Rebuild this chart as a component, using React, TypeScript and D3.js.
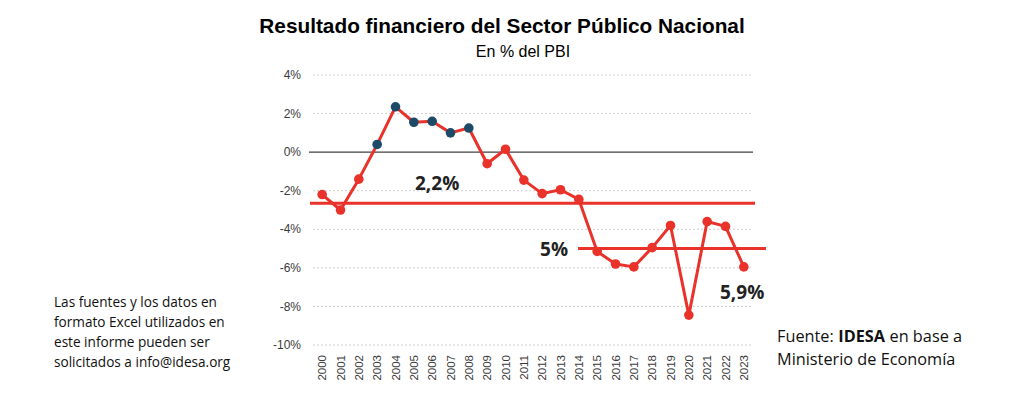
import React, { useEffect, useRef } from "react";
import * as d3 from "d3";

const years = [
  "2000", "2001", "2002", "2003", "2004", "2005", "2006", "2007", "2008", "2009", "2010", "2011",
  "2012", "2013", "2014", "2015", "2016", "2017", "2018", "2019", "2020", "2021", "2022", "2023",
];
const resultado = [
  -2.2, -3.0, -1.4, 0.4, 2.35, 1.55, 1.6, 1.0, 1.25, -0.6, 0.15, -1.45,
  -2.15, -1.95, -2.45, -5.15, -5.8, -5.95, -4.95, -3.8, -8.45, -3.6, -3.85, -5.95,
];
// years drawn with dark markers (superávit 2003-2008)
const superavitYears = ["2003", "2004", "2005", "2006", "2007", "2008"];
const yTicks = [4, 2, 0, -2, -4, -6, -8, -10];
const refValues = [-2.65, -5.0];
const refLabels = ["2,2%", "5%"];
const lastLabel = "5,9%";
const noteLines = [
  "Las fuentes y los datos en",
  "formato Excel utilizados en",
  "este informe pueden ser",
  "solicitados a info@idesa.org",
];
const sourceParts = [
  { text: "Fuente:", bold: false },
  { text: "IDESA", bold: true },
  { text: "en base a", bold: false },
];

const W = 1024;
const H = 397;

const App: React.FC = () => {
  const svgRef = useRef<SVGSVGElement>(null);

  useEffect(() => {
    if (!svgRef.current) return;
    const svg = d3.select(svgRef.current);
    svg.selectAll("*").remove();

    const x = d3.scaleBand<string>().domain(years).range([313, 753]);
    const y = d3.scaleLinear().domain([-10, 4]).range([345, 75]);
    const cx = (d: string) => (x(d) as number) + x.bandwidth() / 2;

    // Title
    svg.append("text")
      .attr("x", 502).attr("y", 33)
      .attr("text-anchor", "middle")
      .style("font-family", "'Liberation Sans', Arial, sans-serif")
      .style("font-weight", "bold")
      .style("font-size", "20.8px")
      .style("fill", "#000")
      .text("Resultado financiero del Sector Público Nacional");

    svg.append("text")
      .attr("x", 523).attr("y", 57)
      .attr("text-anchor", "middle")
      .style("font-family", "'Liberation Sans', Arial, sans-serif")
      .style("font-size", "16px")
      .style("fill", "#000")
      .text("En % del PBI");

    // Gridlines
    const grid = svg.append("g");
    grid.selectAll("line")
      .data(yTicks.filter((t) => t !== 0))
      .enter()
      .append("line")
      .attr("x1", 313).attr("x2", 753)
      .attr("y1", (d) => y(d)).attr("y2", (d) => y(d))
      .attr("stroke", "#cfcfcf")
      .attr("stroke-width", 1)
      .attr("stroke-dasharray", "2,2");

    svg.append("line")
      .attr("x1", 309).attr("x2", 753)
      .attr("y1", y(0)).attr("y2", y(0))
      .attr("stroke", "#404040")
      .attr("stroke-width", 1.3);

    // Y axis labels
    svg.append("g")
      .selectAll("text")
      .data(yTicks)
      .enter()
      .append("text")
      .attr("x", 301)
      .attr("y", (d) => y(d))
      .attr("dy", "0.35em")
      .attr("text-anchor", "end")
      .style("font-family", "'Liberation Sans', Arial, sans-serif")
      .style("font-size", "12px")
      .style("fill", "#3a3a3a")
      .text((d) => `${d}%`);

    // X axis labels (rotated)
    svg.append("g")
      .selectAll("text")
      .data(years)
      .enter()
      .append("text")
      .attr("transform", (d) => `translate(${cx(d) + 4},355) rotate(-90)`)
      .attr("text-anchor", "end")
      .style("font-family", "'Liberation Sans', Arial, sans-serif")
      .style("font-size", "11.5px")
      .style("fill", "#3a3a3a")
      .text((d) => d);

    // Reference lines
    const refStart = [310, 578];
    const refEnd = [755, 766];
    svg.append("g")
      .selectAll("line")
      .data(refValues)
      .enter()
      .append("line")
      .attr("x1", (d, i) => refStart[i])
      .attr("x2", (d, i) => refEnd[i])
      .attr("y1", (d) => y(d)).attr("y2", (d) => y(d))
      .attr("stroke", "#e8322a")
      .attr("stroke-width", 3);

    // Series line
    const line = d3.line<number>()
      .x((d, i) => cx(years[i]))
      .y((d) => y(d));

    svg.append("path")
      .datum(resultado)
      .attr("d", line)
      .attr("fill", "none")
      .attr("stroke", "#e8322a")
      .attr("stroke-width", 3)
      .attr("stroke-linejoin", "round");

    svg.append("g")
      .selectAll("circle")
      .data(resultado)
      .enter()
      .append("circle")
      .attr("cx", (d, i) => cx(years[i]))
      .attr("cy", (d) => y(d))
      .attr("r", 4.8)
      .attr("fill", (d, i) => (superavitYears.includes(years[i]) ? "#1d4a66" : "#e8322a"));

    // Annotations
    const bold = (t: string, px: number, py: number, anchor = "start") =>
      svg.append("text")
        .attr("x", px).attr("y", py)
        .attr("text-anchor", anchor)
        .style("font-family", "'Open Sans', 'Noto Sans', sans-serif")
        .style("font-weight", "bold")
        .style("font-size", "19px")
        .style("fill", "#222")
        .text(t);
    bold(refLabels[0], 415, y(refValues[0]) - 13);
    bold(refLabels[1], 568, y(refValues[1]) + 7, "end");
    bold(lastLabel, 720, y(resultado[resultado.length - 1]) + 32);

    // Left note
    svg.append("g")
      .selectAll("text")
      .data(noteLines)
      .enter()
      .append("text")
      .attr("x", 54)
      .attr("y", (d, i) => 307 + i * 20)
      .style("font-family", "'Open Sans', 'Noto Sans', sans-serif")
      .style("font-size", "13.6px")
      .style("fill", "#111")
      .text((d) => d);

    // Source (separate texts laid out one after another)
    let sx = 777;
    sourceParts.forEach((p) => {
      const t = svg.append("text")
        .attr("x", sx).attr("y", 342)
        .style("font-family", "'Open Sans', 'Noto Sans', sans-serif")
        .style("font-size", "16.3px")
        .style("font-weight", p.bold ? "bold" : "normal")
        .style("fill", "#111")
        .text(p.text);
      const node = t.node() as SVGTextElement;
      sx += node.getComputedTextLength() + 4.5;
    });
    svg.append("text")
      .attr("x", 777).attr("y", 365)
      .style("font-family", "'Open Sans', 'Noto Sans', sans-serif")
      .style("font-size", "16.3px")
      .style("fill", "#111")
      .text("Ministerio de Economía");
  }, []);

  return (
    <svg
      ref={svgRef}
      width={W}
      height={H}
      viewBox={`0 0 ${W} ${H}`}
      style={{ position: "absolute", left: 0, top: 0, background: "#fff" }}
    />
  );
};

export default App;
